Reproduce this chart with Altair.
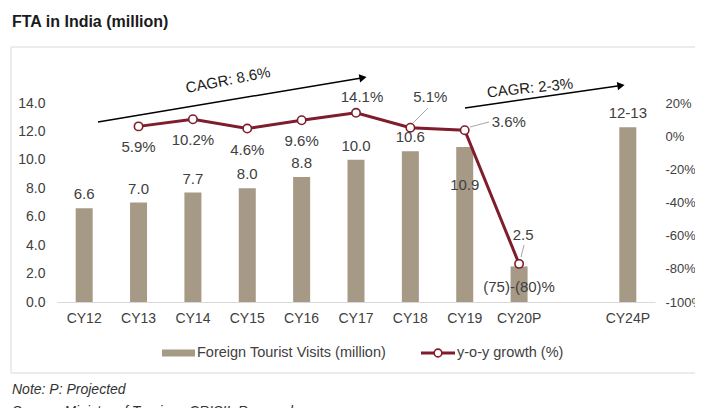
import altair as alt
import pandas as pd

# ---- data ----
years = ["CY12", "CY13", "CY14", "CY15", "CY16", "CY17", "CY18", "CY19", "CY20P", "CY24P"]
visits = [6.6, 7.0, 7.7, 8.0, 8.8, 10.0, 10.6, 10.9, 2.5, 12.3]
visit_labels = ["6.6", "7.0", "7.7", "8.0", "8.8", "10.0", "10.6", "10.9", "2.5", "12-13"]
growth = [None, 5.9, 10.2, 4.6, 9.6, 14.1, 5.1, 3.6, -77.0, None]
growth_labels = ["", "5.9%", "10.2%", "4.6%", "9.6%", "14.1%", "5.1%", "3.6%", "(75)-(80)%", ""]
x_domain = years[:9] + [" "] + years[9:]
left_ticks = [0, 2, 4, 6, 8, 10, 12, 14]
right_ticks = [-100, -80, -60, -40, -20, 0, 20]

BAR = "#A69986"
LINE = "#7F1D2D"
TXT = "#404040"
FONT = "Liberation Sans"

df = pd.DataFrame({
    "year": years, "visits": visits, "vlabel": visit_labels,
    "growth": growth, "glabel": growth_labels,
})

X = alt.X("year:N", sort=x_domain,
          scale=alt.Scale(domain=x_domain, paddingInner=0, paddingOuter=0),
          axis=alt.Axis(title=None, labelAngle=0, ticks=False, domainColor="#d9d9d9",
                        labelFontSize=14, labelColor=TXT, labelFont=FONT, labelPadding=9))
YB = alt.Y("visits:Q", scale=alt.Scale(domain=[0, 14], nice=False),
           axis=alt.Axis(title=None, values=left_ticks, format=".1f", domain=False, ticks=False,
                         grid=False, labelFontSize=14, labelColor=TXT, labelFont=FONT,
                         labelPadding=12, orient="left"))
YL = alt.Y("growth:Q", scale=alt.Scale(domain=[-100, 20], nice=False),
           axis=alt.Axis(title=None, values=right_ticks, labelExpr="datum.value + '%'",
                         domain=False, ticks=False, grid=False, labelFontSize=13,
                         labelColor=TXT, labelFont=FONT, labelPadding=10, orient="right"))

bbase = alt.Chart(df).encode(x=X, y=YB)
bars = bbase.mark_bar(color=BAR, size=17)
tkw = dict(font=FONT, fontSize=15, color=TXT)
blab_std = bbase.mark_text(baseline="bottom", dy=-6, **tkw).encode(text="vlabel:N").transform_filter(
    "datum.year != 'CY19' && datum.year != 'CY20P'")
blab_19 = bbase.mark_text(baseline="middle", dy=38, **tkw).encode(text="vlabel:N").transform_filter(
    "datum.year == 'CY19'")
blab_20 = bbase.mark_text(baseline="middle", dy=-31, dx=4, **tkw).encode(text="vlabel:N").transform_filter(
    "datum.year == 'CY20P'")
bar_group = alt.layer(bars, blab_std, blab_19, blab_20)

lbase = alt.Chart(df).transform_filter("datum.growth != null").encode(x=X, y=YL)
line = lbase.mark_line(color=LINE, strokeWidth=3)
pts = lbase.mark_point(shape="circle", filled=True, fill="white", stroke=LINE,
                       strokeWidth=1.6, size=70, opacity=1)
glab_below = lbase.mark_text(baseline="middle", dy=21, **tkw).encode(text="glabel:N").transform_filter(
    alt.FieldOneOfPredicate(field="year", oneOf=["CY13", "CY14", "CY15", "CY16"]))
glab_17 = lbase.mark_text(baseline="middle", dy=-16, dx=6, **tkw).encode(text="glabel:N").transform_filter(
    "datum.year == 'CY17'")
glab_18 = lbase.mark_text(baseline="middle", dy=-31, dx=20, **tkw).encode(text="glabel:N").transform_filter(
    "datum.year == 'CY18'")
glab_19 = lbase.mark_text(baseline="middle", align="left", dy=-8, dx=27, **tkw).encode(text="glabel:N").transform_filter(
    "datum.year == 'CY19'")
glab_20 = lbase.mark_text(baseline="middle", dy=23, **tkw).encode(text="glabel:N").transform_filter(
    "datum.year == 'CY20P'")
line_group = alt.layer(line, pts, glab_below, glab_17, glab_18, glab_19, glab_20)

one = alt.Data(values=[{}])


def ann_text(text, x, y, **kw):
    return alt.Chart(one).mark_text(text=text, **kw).encode(x=alt.value(x), y=alt.value(y))


def ann_rule(x1, y1, x2, y2, **kw):
    return alt.Chart(one).mark_rule(**kw).encode(
        x=alt.value(x1), y=alt.value(y1), x2=alt.value(x2), y2=alt.value(y2))


def ann_point(x, y, **kw):
    return alt.Chart(one).mark_point(**kw).encode(x=alt.value(x), y=alt.value(y))


border = alt.Chart(one).mark_rect(fillOpacity=0, stroke="#d9d9d9", strokeWidth=1).encode(
    x=alt.value(-46), x2=alt.value(650), y=alt.value(-56), y2=alt.value(270))

ann = [
    border,
    ann_text("FTA in India (million)", -45, -81, align="left", baseline="middle",
             font=FONT, fontSize=16, fontWeight="bold", color="#1a1a1a"),
    ann_text("Note: P: Projected", -45, 287, align="left", baseline="middle",
             font=FONT, fontSize=14, fontStyle="italic", color="#333333"),
    ann_text("Source: Ministry of Tourism, CRISIL Research", -45, 309, align="left", baseline="middle",
             font=FONT, fontSize=14, fontStyle="italic", color="#333333"),
    # CAGR arrows
    ann_rule(41, 19, 306, -25.3, color="black", strokeWidth=1.5),
    ann_point(306, -25.3, shape="triangle-right", filled=True, color="black", size=70,
              angle=350.5, opacity=1),
    ann_text("CAGR: 8.6%", 171, -23, align="center", baseline="middle", angle=349,
             font=FONT, fontSize=15, color="#1a1a1a"),
    ann_rule(408, 5, 564, -17.4, color="black", strokeWidth=1.5),
    ann_point(564, -17.4, shape="triangle-right", filled=True, color="black", size=70,
              angle=351.8, opacity=1),
    ann_text("CAGR: 2-3%", 473, -15, align="center", baseline="middle", angle=354,
             font=FONT, fontSize=15, color="#1a1a1a"),
    # leader lines
    ann_rule(356, 20, 371, 5, color="#a6a6a6", strokeWidth=1),
    ann_rule(413, 24, 432, 19, color="#a6a6a6", strokeWidth=1),
    ann_rule(467, 142, 464, 154, color="#a6a6a6", strokeWidth=1),
    # legend
    alt.Chart(one).mark_rect(color=BAR).encode(
        x=alt.value(105), x2=alt.value(138), y=alt.value(246.5), y2=alt.value(253.5)),
    ann_text("Foreign Tourist Visits (million)", 140, 250, align="left", baseline="middle",
             font=FONT, fontSize=14.5, color=TXT),
    ann_rule(364, 250, 398, 250, color=LINE, strokeWidth=3),
    ann_point(381, 250, shape="circle", filled=True, fill="white", stroke=LINE,
              strokeWidth=1.6, size=60, opacity=1),
    ann_text("y-o-y growth (%)", 400, 250, align="left", baseline="middle",
             font=FONT, fontSize=14.5, color=TXT),
]

chart = alt.layer(bar_group, line_group, *ann).resolve_scale(y="independent").properties(
    width=598, height=199,
    autosize=alt.AutoSizeParams(type="none"),
    padding={"left": 49, "top": 95, "right": 40, "bottom": 106},
    background="white",
).configure_view(stroke=None)

chart.save("out.html", embed_options={"renderer": "svg", "actions": False})
